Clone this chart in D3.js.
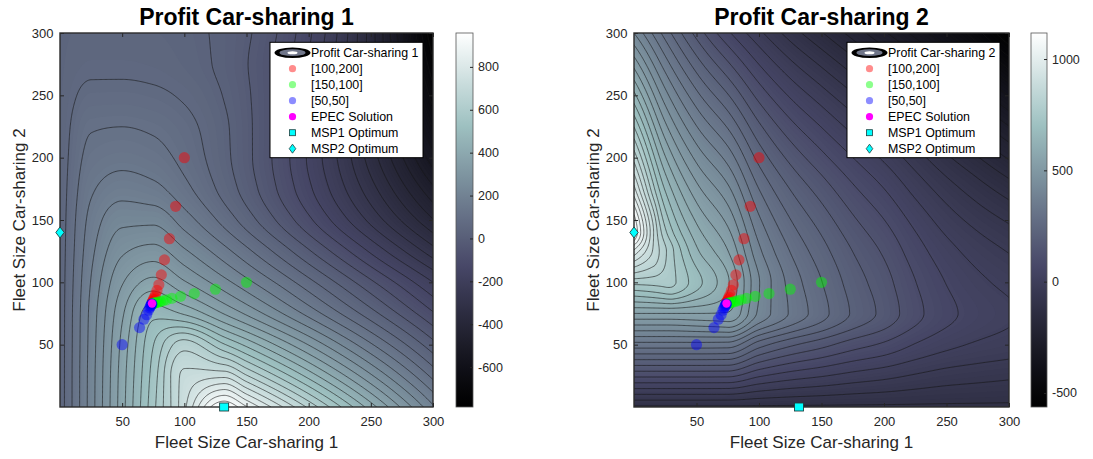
<!DOCTYPE html>
<html lang="en">
<head>
<meta charset="UTF-8">
<title>Profit Car-sharing</title>
<script src="https://d3js.org/d3.v7.min.js"></script>
<style>
  body { margin: 0; background: #ffffff; }
  svg { display: block; font-family: "Liberation Sans", Arial, Helvetica, sans-serif; }
</style>
</head>
<body>
<svg id="chart" width="1093" height="459"></svg>
<script>
// Grid nodes and profit values
const gridX1 = [0, 25, 50, 75, 100, 132, 150, 175, 200, 225, 250, 275, 300];
const gridY1 = [0, 25, 50, 75, 100, 125, 150, 175, 200, 225, 250, 275, 300];
const profit1 = [
  [40, 214, 388, 562, 735, 958, 877, 764, 651, 538, 426, 313, 200],
  [40, 213, 384, 551, 713, 734, 665, 570, 475, 380, 285, 190, 95],
  [40, 210, 375, 531, 640, 537, 479, 398, 318, 237, 156, 76, -5],
  [40, 206, 355, 475, 442, 360, 313, 246, 178, 109, 40, -30, -100],
  [40, 195, 316, 377, 325, 250, 206, 144, 79, 13, -54, -121, -190],
  [40, 180, 270, 294, 242, 165, 119, 53, -15, -84, -155, -227, -300],
  [40, 164, 223, 224, 171, 92, 44, -25, -96, -170, -245, -322, -400],
  [40, 143, 174, 162, 120, 49, 4, -65, -139, -218, -301, -389, -480],
  [40, 122, 135, 125, 94, 34, -8, -76, -154, -241, -338, -442, -555],
  [40, 103, 107, 100, 79, 30, -9, -74, -154, -249, -358, -482, -620],
  [40, 77, 78, 73, 59, 20, -13, -73, -152, -251, -371, -514, -680],
  [40, 55, 55, 52, 41, 11, -18, -73, -150, -252, -381, -541, -735],
  [40, 45, 45, 43, 35, 11, -13, -64, -139, -243, -382, -561, -786]
];

const gridX2 = [0, 25, 50, 75, 100, 125, 150, 175, 200, 225, 250, 275, 300];
const gridY2 = [0, 25, 50, 75, 100, 125, 140, 175, 200, 225, 250, 275, 300];
const profit2 = [
  [-120, -120, -120, -120, -120, -120, -120, -120, -120, -120, -120, -120, -120],
  [101, 101, 101, 100, 57, 31, 14, -4, -18, -35, -49, -57, -64],
  [322, 322, 322, 320, 234, 183, 148, 112, 85, 49, 22, 5, -7],
  [543, 543, 543, 540, 412, 334, 272, 210, 162, 106, 63, 36, 17],
  [764, 764, 682, 590, 423, 325, 258, 197, 150, 94, 50, 20, -1],
  [984, 796, 634, 545, 389, 296, 232, 174, 127, 71, 26, -7, -33],
  [1117, 758, 601, 513, 364, 274, 212, 155, 108, 53, 6, -29, -58],
  [965, 661, 516, 430, 297, 214, 155, 100, 52, -3, -52, -94, -133],
  [856, 588, 450, 364, 242, 163, 105, 52, 3, -52, -105, -151, -199],
  [747, 513, 381, 293, 183, 107, 50, -4, -55, -110, -165, -218, -275],
  [638, 437, 310, 219, 119, 46, -11, -66, -120, -176, -234, -294, -361],
  [529, 359, 236, 141, 51, -20, -78, -135, -191, -249, -311, -378, -457],
  [420, 280, 160, 60, -20, -90, -150, -210, -270, -330, -395, -470, -563]
];

// Iterates of the three runs (fleet 1, fleet 2)
const run100_200 = [[100, 200], [93, 161], [88, 135], [84, 118], [81.5, 106], [79.5, 98], [78, 93.5],
  [76.8, 90], [76, 88], [75.3, 86.5], [74.9, 85.5], [74.6, 84.6], [74.4, 84], [74.2, 83.6], [74.1, 83.3]];
const run150_100 = [[150, 100], [125, 94.5], [108, 91], [97, 88.8], [90, 87.2], [85.7, 86], [82.8, 85.2],
  [80.7, 84.6], [79, 84.1], [77.6, 83.8], [76.6, 83.5], [75.8, 83.3], [75.2, 83.2], [74.8, 83.1]];
const run50_50 = [[50, 50], [64, 63.7], [67.5, 70.4], [69.7, 74], [71.2, 77.6], [72.1, 79.5], [72.8, 80.8],
  [73.2, 81.6], [73.5, 82.1], [73.7, 82.5], [73.85, 82.8]];
const epecSolution = [74, 83];
const msp1Optimum = [132, 0];
const msp2Optimum = [0, 140];

const axisDomain = [0, 300];
const axisTicks = [50, 100, 150, 200, 250, 300];
const colorbarTicks1 = [-600, -400, -200, 0, 200, 400, 600, 800];
const colorbarTicks2 = [-500, 0, 500, 1000];
const runLabels = ['[100,200]', '[150,100]', '[50,50]'];

// bone colormap, slightly darkened to match the exported figure
function clamp01(v) { return Math.max(0, Math.min(1, v)); }
function bone(t) {
  const r = (7 * t + clamp01((t - 0.75) / 0.25)) / 8;
  const g = (7 * t + clamp01((t - 0.375) / 0.375)) / 8;
  const b = (7 * t + clamp01(t / 0.375)) / 8;
  const gm = 1.15;
  return d3.rgb(255 * Math.pow(r, gm), 255 * Math.pow(g, gm), 255 * Math.pow(b, gm)).formatHex();
}

// monotone cubic through the grid nodes (used to resample the surface finely)
function monotone(xs, ys) {
  const n = xs.length, h = [], s = [], t = new Array(n);
  for (let i = 0; i < n - 1; i++) {
    h.push(xs[i + 1] - xs[i]);
    s.push((ys[i + 1] - ys[i]) / h[i]);
  }
  t[0] = s[0];
  t[n - 1] = s[n - 2];
  for (let i = 1; i < n - 1; i++) {
    if (s[i - 1] * s[i] <= 0) t[i] = 0;
    else {
      const w1 = 2 * h[i] + h[i - 1], w2 = h[i] + 2 * h[i - 1];
      t[i] = (w1 + w2) / (w1 / s[i - 1] + w2 / s[i]);
    }
  }
  return v => {
    const i = Math.max(0, Math.min(n - 2, d3.bisectRight(xs, v) - 1));
    const u = (v - xs[i]) / h[i], u2 = u * u, u3 = u2 * u;
    return (2 * u3 - 3 * u2 + 1) * ys[i] + (u3 - 2 * u2 + u) * h[i] * t[i]
      + (-2 * u3 + 3 * u2) * ys[i + 1] + (u3 - u2) * h[i] * t[i + 1];
  };
}

const svg = d3.select('#chart');
const defs = svg.append('defs');

function drawPanel(p) {
  const x = d3.scaleLinear().domain(axisDomain).range([p.left, p.right]);
  const y = d3.scaleLinear().domain(axisDomain).range([p.bottom, p.top]);

  // resample grid onto a 1-unit lattice
  const n = 301, step = 1;
  const rowsFine = p.grid.map(row => {
    const f = monotone(p.gx, row);
    return d3.range(n).map(k => f(k * step));
  });
  const values = new Float64Array(n * n);
  for (let k = 0; k < n; k++) {
    const f = monotone(p.gy, rowsFine.map(r => r[k]));
    for (let r = 0; r < n; r++) values[r * n + k] = f(r * step);
  }

  const [vmin, vmax] = d3.extent(p.grid.flat());
  const color = d3.scaleSequential(bone).domain([vmin, vmax]);

  const proj = d3.geoTransform({
    point(px, py) { this.stream.point(x((px - 0.5) * step), y((py - 0.5) * step)); }
  });
  const path = d3.geoPath(proj);

  defs.append('clipPath').attr('id', 'clip-' + p.id)
    .append('rect')
    .attr('x', p.left).attr('y', p.top)
    .attr('width', p.right - p.left).attr('height', p.bottom - p.top);

  const plot = svg.append('g').attr('clip-path', `url(#clip-${p.id})`);

  plot.append('rect')
    .attr('x', p.left).attr('y', p.top)
    .attr('width', p.right - p.left).attr('height', p.bottom - p.top)
    .attr('fill', color(vmin));

  // filled bands
  const nBands = 160, bandStep = (vmax - vmin) / nBands;
  const bandLevels = d3.range(1, nBands).map(i => vmin + bandStep * i);
  plot.append('g')
    .selectAll('path')
    .data(d3.contours().size([n, n]).thresholds(bandLevels)(values))
    .join('path')
    .attr('d', path)
    .attr('fill', d => color(d.value + bandStep / 2));

  // contour lines
  const lineLevels = d3.range(1, 41).map(i => vmin + (vmax - vmin) * i / 41);
  plot.append('g')
    .selectAll('path')
    .data(d3.contours().size([n, n]).thresholds(lineLevels)(values))
    .join('path')
    .attr('d', path)
    .attr('fill', 'none')
    .attr('stroke', '#151515')
    .attr('stroke-width', 0.65)
    .attr('stroke-opacity', 0.9);

  // runs
  const runs = [run100_200, run150_100, run50_50];
  const runColors = ['#ff0000', '#00ff00', '#0000ff'];
  runs.forEach((pts, i) => {
    plot.append('g')
      .selectAll('circle')
      .data(pts)
      .join('circle')
      .attr('cx', d => x(d[0]))
      .attr('cy', d => y(d[1]))
      .attr('r', 5.6)
      .attr('fill', runColors[i])
      .attr('fill-opacity', 0.45);
  });

  plot.append('circle')
    .attr('cx', x(epecSolution[0]))
    .attr('cy', y(epecSolution[1]))
    .attr('r', 4.2)
    .attr('fill', '#ff00ff');

  // axes
  const tickColor = '#262626';
  const styleAxis = g => {
    g.attr('font-family', null).attr('font-size', 13);
    g.select('.domain').remove();
    g.selectAll('.tick line').attr('stroke', tickColor);
    g.selectAll('.tick text').attr('fill', tickColor);
  };
  const fmt = d => String(d);
  svg.append('g').attr('transform', `translate(0,${p.bottom})`)
    .call(d3.axisBottom(x).tickValues(axisTicks).tickFormat(fmt).tickSizeInner(-4).tickSizeOuter(0).tickPadding(10))
    .call(styleAxis);
  svg.append('g').attr('transform', `translate(0,${p.top})`)
    .call(d3.axisTop(x).tickValues(axisTicks).tickSizeInner(-4).tickSizeOuter(0).tickFormat(''))
    .call(styleAxis);
  svg.append('g').attr('transform', `translate(${p.left},0)`)
    .call(d3.axisLeft(y).tickValues(axisTicks).tickFormat(fmt).tickSizeInner(-4).tickSizeOuter(0).tickPadding(6.5))
    .call(styleAxis);
  svg.append('g').attr('transform', `translate(${p.right},0)`)
    .call(d3.axisRight(y).tickValues(axisTicks).tickSizeInner(-4).tickSizeOuter(0).tickFormat(''))
    .call(styleAxis);

  svg.append('rect')
    .attr('x', p.left).attr('y', p.top)
    .attr('width', p.right - p.left).attr('height', p.bottom - p.top)
    .attr('fill', 'none')
    .attr('stroke', '#2b2b2b')
    .attr('stroke-width', 1.4);

  // optimum markers sit on the axes
  svg.append('rect')
    .attr('x', x(msp1Optimum[0]) - 4.5).attr('y', y(msp1Optimum[1]) - 4)
    .attr('width', 9).attr('height', 8)
    .attr('fill', '#00ffff').attr('stroke', '#1f3f3f').attr('stroke-width', 0.9);
  const dx = x(msp2Optimum[0]), dy = y(msp2Optimum[1]);
  svg.append('path')
    .attr('d', `M${dx},${dy - 5.5}L${dx + 4.2},${dy}L${dx},${dy + 5.5}L${dx - 4.2},${dy}Z`)
    .attr('fill', '#00ffff').attr('stroke', '#1f3f3f').attr('stroke-width', 0.9);

  // titles and labels
  const cx = (p.left + p.right) / 2;
  svg.append('text')
    .attr('x', cx).attr('y', 25)
    .attr('text-anchor', 'middle')
    .attr('font-size', 23).attr('font-weight', 'bold')
    .attr('fill', '#000')
    .text(p.title);
  svg.append('text')
    .attr('x', cx).attr('y', 448)
    .attr('text-anchor', 'middle')
    .attr('font-size', 17).attr('fill', tickColor)
    .text('Fleet Size Car-sharing 1');
  svg.append('text')
    .attr('transform', `translate(${p.left - 35},${(p.top + p.bottom) / 2}) rotate(-90)`)
    .attr('text-anchor', 'middle')
    .attr('font-size', 17).attr('fill', tickColor)
    .text('Fleet Size Car-sharing 2');

  // colorbar
  const grad = defs.append('linearGradient').attr('id', 'grad-' + p.id)
    .attr('x1', 0).attr('y1', 1).attr('x2', 0).attr('y2', 0);
  grad.selectAll('stop')
    .data(d3.range(0, 1.0001, 1 / 32))
    .join('stop')
    .attr('offset', d => d)
    .attr('stop-color', d => bone(d));
  const cb = d3.scaleLinear().domain([vmin, vmax]).range([p.bottom, p.top]);
  svg.append('rect')
    .attr('x', p.cbLeft).attr('y', p.top)
    .attr('width', p.cbRight - p.cbLeft).attr('height', p.bottom - p.top)
    .attr('fill', `url(#grad-${p.id})`)
    .attr('stroke', '#555')
    .attr('stroke-width', 0.8);
  svg.append('g').attr('transform', `translate(${p.cbRight},0)`)
    .call(d3.axisRight(cb).tickValues(p.cbTicks).tickFormat(fmt).tickSizeInner(-3).tickSizeOuter(0).tickPadding(5))
    .call(styleAxis)
    .attr('font-size', 12.5);

  // legend
  const lx = p.legendX, ly = 42.3;
  const lg = svg.append('g');
  lg.append('rect')
    .attr('x', lx).attr('y', ly).attr('width', 153).attr('height', 115.4)
    .attr('fill', '#fff').attr('stroke', '#000').attr('stroke-width', 1);
  const ix = lx + 22.5, tx = lx + 41;
  const rowY = i => 52.7 + i * 16;
  lg.append('ellipse').attr('cx', ix).attr('cy', rowY(0)).attr('rx', 18).attr('ry', 5.3).attr('fill', '#000');
  lg.append('ellipse').attr('cx', ix).attr('cy', rowY(0)).attr('rx', 13).attr('ry', 3.4).attr('fill', '#6f7589');
  lg.append('ellipse').attr('cx', ix).attr('cy', rowY(0)).attr('rx', 5).attr('ry', 1.5).attr('fill', '#fff');
  runColors.forEach((c, i) => {
    lg.append('circle').attr('cx', ix).attr('cy', rowY(i + 1)).attr('r', 3.6)
      .attr('fill', c).attr('fill-opacity', 0.45);
  });
  lg.append('circle').attr('cx', ix).attr('cy', rowY(4)).attr('r', 3.6).attr('fill', '#ff00ff');
  lg.append('rect').attr('x', ix - 3).attr('y', rowY(5) - 3).attr('width', 6).attr('height', 6)
    .attr('fill', '#00ffff').attr('stroke', '#1f3f3f').attr('stroke-width', 0.8);
  lg.append('path')
    .attr('d', `M${ix},${rowY(6) - 4.5}L${ix + 3.3},${rowY(6)}L${ix},${rowY(6) + 4.5}L${ix - 3.3},${rowY(6)}Z`)
    .attr('fill', '#00ffff').attr('stroke', '#1f3f3f').attr('stroke-width', 0.8);
  const labels = [p.title].concat(runLabels, ['EPEC Solution', 'MSP1 Optimum', 'MSP2 Optimum']);
  lg.selectAll('text.lab')
    .data(labels)
    .join('text')
    .attr('class', 'lab')
    .attr('x', tx)
    .attr('y', (d, i) => rowY(i))
    .attr('dy', '0.36em')
    .attr('font-size', 12.4)
    .attr('fill', '#000')
    .text(d => d);
}

drawPanel({ id: 'p1', gx: gridX1, gy: gridY1, grid: profit1, title: 'Profit Car-sharing 1',
  left: 60, right: 433, top: 33, bottom: 407, cbLeft: 456, cbRight: 473,
  cbTicks: colorbarTicks1, legendX: 270 });
drawPanel({ id: 'p2', gx: gridX2, gy: gridY2, grid: profit2, title: 'Profit Car-sharing 2',
  left: 634, right: 1009, top: 33, bottom: 407, cbLeft: 1031, cbRight: 1047,
  cbTicks: colorbarTicks2, legendX: 847 });
</script>
</body>
</html>
